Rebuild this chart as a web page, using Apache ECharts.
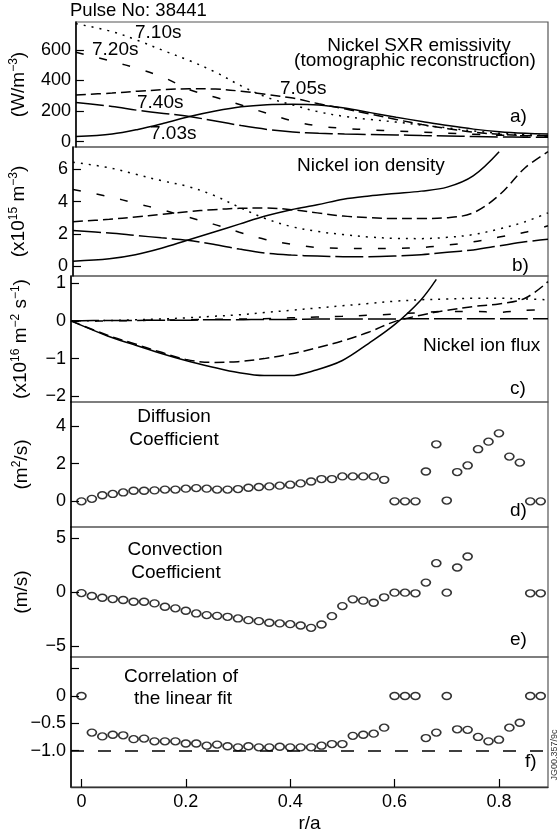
<!DOCTYPE html>
<html>
<head>
<meta charset="utf-8">
<script src="https://cdn.jsdelivr.net/npm/echarts@6/dist/echarts.min.js"></script>
<style>
  html, body { margin: 0; padding: 0; background: #fff; }
  #chart { width: 560px; height: 834px; }
</style>
</head>
<body>
<div id="chart"></div>
<script>
// ---- radial profile data (r/a) ----
const rProfile = [-0.02, 0.05, 0.10, 0.15, 0.20, 0.25, 0.30, 0.35, 0.40, 0.45, 0.50, 0.55, 0.60, 0.65, 0.70, 0.75, 0.80, 0.85, 0.894];

// a) Nickel SXR emissivity (W/m^3)
const emis703 = [33, 50, 80, 120, 164, 200, 228, 242, 245, 240, 220, 190, 160, 132, 105, 82, 65, 55, 50];
const emis705 = [306, 318, 330, 340, 346, 344, 330, 308, 285, 248, 215, 180, 145, 112, 85, 62, 48, 40, 38];
const emis710 = [772, 720, 662, 595, 530, 455, 365, 290, 240, 195, 165, 145, 128, 108, 90, 70, 55, 45, 40];
const emis720 = [585, 525, 478, 420, 340, 290, 240, 185, 135, 102, 87, 77, 69, 62, 55, 48, 42, 38, 35];
const emis740 = [256, 230, 205, 185, 164, 135, 105, 80, 63, 55, 50, 47, 44, 40, 37, 34, 31, 29, 28];

// b) Nickel ion density (x10^15 m^-3)
const rDens703 = [-0.02, 0.05, 0.10, 0.15, 0.20, 0.25, 0.30, 0.35, 0.40, 0.45, 0.50, 0.55, 0.60, 0.65, 0.70, 0.75, 0.80];
const dens703 = [0.3, 0.45, 0.7, 1.1, 1.6, 2.1, 2.6, 3.1, 3.5, 3.8, 4.15, 4.35, 4.5, 4.65, 4.9, 5.6, 7.1];
const dens705 = [2.75, 2.9, 3.05, 3.2, 3.37, 3.5, 3.58, 3.6, 3.5, 3.3, 3.1, 3.0, 2.95, 2.95, 3.0, 3.3, 4.4, 6.1, 7.1];
const dens710 = [6.45, 6.1, 5.7, 5.3, 4.95, 4.4, 3.65, 2.95, 2.45, 2.15, 1.95, 1.8, 1.72, 1.7, 1.78, 1.95, 2.3, 2.75, 3.3];
const dens720 = [4.75, 4.3, 3.9, 3.5, 3.05, 2.6, 2.1, 1.65, 1.35, 1.15, 1.1, 1.08, 1.1, 1.15, 1.3, 1.5, 1.8, 2.1, 2.5];
const dens740 = [2.2, 2.05, 1.9, 1.75, 1.6, 1.35, 1.05, 0.8, 0.68, 0.62, 0.58, 0.58, 0.62, 0.7, 0.85, 1.0, 1.25, 1.5, 1.66];

// c) Nickel ion flux (x10^16 m^-2 s^-1)
const rFlux703 = [-0.02, 0.05, 0.10, 0.15, 0.20, 0.25, 0.30, 0.35, 0.40, 0.45, 0.50, 0.55, 0.60, 0.65, 0.68];
const flux703 = [0, -0.4, -0.63, -0.85, -1.05, -1.22, -1.37, -1.45, -1.45, -1.3, -1.05, -0.6, -0.1, 0.55, 1.1];
const flux705 = [0, -0.38, -0.6, -0.82, -1.02, -1.1, -1.08, -1.0, -0.88, -0.72, -0.53, -0.3, -0.02, 0.15, 0.28, 0.38, 0.45, 0.6, 1.04];
const flux710 = [0, 0.01, 0.03, 0.05, 0.08, 0.12, 0.16, 0.22, 0.28, 0.34, 0.4, 0.46, 0.52, 0.56, 0.58, 0.6, 0.6, 0.58, 0.56];
const flux720 = [0, 0, 0.01, 0.02, 0.03, 0.04, 0.05, 0.06, 0.08, 0.1, 0.12, 0.15, 0.18, 0.22, 0.25, 0.25, 0.23, 0.28, 0.3];
const flux740 = [0, 0.01, 0.01, 0.02, 0.02, 0.03, 0.03, 0.04, 0.04, 0.05, 0.05, 0.05, 0.05, 0.06, 0.06, 0.06, 0.06, 0.06, 0.06];

// d-f) transport fit results on the r/a grid
const rFit = [0.00, 0.02, 0.04, 0.06, 0.08, 0.10, 0.12, 0.14, 0.16, 0.18,
              0.20, 0.22, 0.24, 0.26, 0.28, 0.30, 0.32, 0.34, 0.36, 0.38,
              0.40, 0.42, 0.44, 0.46, 0.48, 0.50, 0.52, 0.54, 0.56, 0.58,
              0.60, 0.62, 0.64, 0.66, 0.68, 0.70, 0.72, 0.74, 0.76, 0.78,
              0.80, 0.82, 0.84, 0.86, 0.88];
const diffusion = [0.0, 0.13, 0.32, 0.39, 0.47, 0.56, 0.56, 0.58, 0.62, 0.62,
                   0.67, 0.70, 0.67, 0.62, 0.62, 0.65, 0.72, 0.76, 0.79, 0.83,
                   0.88, 0.95, 1.05, 1.18, 1.18, 1.32, 1.32, 1.32, 1.32, 1.14,
                   0, 0, 0, 1.58, 3.02, 0.04, 1.55, 1.9, 2.76, 3.16,
                   3.6, 2.37, 2.05, 0, 0];
const convection = [-0.1, -0.37, -0.53, -0.65, -0.74, -0.9, -0.9, -1.05, -1.36, -1.51,
                    -1.73, -1.98, -2.13, -2.2, -2.29, -2.44, -2.6, -2.69, -2.84, -2.9,
                    -2.97, -3.09, -3.31, -3.0, -2.23, -1.3, -0.68, -0.8, -0.99, -0.49,
                    -0.06, -0.06, -0.12, 0.87, 2.66, -0.06, 2.26, 3.28, null, null,
                    null, null, null, -0.12, -0.12];
const correlation = [0, -0.67, -0.74, -0.71, -0.72, -0.79, -0.78, -0.83, -0.83, -0.83,
                     -0.87, -0.87, -0.91, -0.89, -0.92, -0.94, -0.92, -0.94, -0.94, -0.93,
                     -0.94, -0.94, -0.94, -0.91, -0.88, -0.88, -0.73, -0.71, -0.69, -0.58,
                     0, 0, 0, -0.77, -0.67, 0, -0.61, -0.62, -0.75, -0.83,
                     -0.80, -0.58, -0.49, 0, 0];
const perfectFit = -1.0;

// ---- axis ticks ----
const xTicks = [0, 0.2, 0.4, 0.6, 0.8];
const yTicksA = [0, 200, 400, 600];
const yTicksB = [0, 2, 4, 6];
const yTicksC = [-2, -1, 0, 1];
const yTicksD = [0, 2, 4];
const yTicksE = [-5, 0, 5];
const yTicksF = [-1, -0.5, 0, 0.5];
const yLabelsF = { '-1': '−1.0', '-0.5': '−0.5', '0': '0', '0.5': '' };

const FONT = '"Liberation Sans", Arial, sans-serif';
const INK = '#000';

const panels = [
  { top: 22,  height: 125, min: -35,   max: 783,  ticks: yTicksA, name: '(W/m{sup|−3})', gap: 43 },
  { top: 147, height: 129, min: -0.62, max: 7.39, ticks: yTicksB, name: '(x10{sup|15} m{sup|−3})', gap: 43 },
  { top: 276, height: 126, min: -2.15, max: 1.19, ticks: yTicksC, name: '(x10{sup|16} m{sup|−2} s{sup|−1})', gap: 39 },
  { top: 402, height: 125, min: -1.36, max: 5.26, ticks: yTicksD, name: '(m{sup|2}/s)', gap: 38 },
  { top: 527, height: 130, min: -6,    max: 6,    ticks: yTicksE, name: '(m/s)', gap: 38 },
  { top: 657, height: 131, min: -1.667, max: 0.715, ticks: yTicksF, name: '', gap: 38 }
];

const grids = panels.map(p => ({
  left: 71, right: 12, top: p.top, height: p.height,
  show: true, borderColor: '#555', borderWidth: 1.2, backgroundColor: 'transparent'
}));

const xAxes = panels.map((p, i) => {
  const last = i === panels.length - 1;
  return {
    gridIndex: i, type: 'value', min: -0.02, max: 0.894,
    axisLine: { show: last, onZero: false, lineStyle: { color: '#333', width: 1.3 } },
    axisTick: { show: last, inside: true, length: 8, customValues: xTicks, lineStyle: { color: INK, width: 1.2 } },
    axisLabel: { show: last, customValues: xTicks, margin: 6, color: INK, fontFamily: FONT, fontSize: 18,
                 formatter: v => String(v) },
    splitLine: { show: false },
    name: last ? 'r/a' : '', nameLocation: 'middle', nameGap: 27,
    nameTextStyle: { color: INK, fontFamily: FONT, fontSize: 19 }
  };
});

const yAxes = panels.map((p, i) => ({
  gridIndex: i, type: 'value', min: p.min, max: p.max,
  axisLine: { show: true, onZero: false, lineStyle: { color: INK, width: 1.5 } },
  axisTick: { show: true, inside: true, length: 8, customValues: p.ticks, lineStyle: { color: INK, width: 1.2 } },
  axisLabel: {
    customValues: p.ticks, margin: 5, color: INK, fontFamily: FONT, fontSize: 18,
    formatter: v => (i === 5 ? yLabelsF[String(v)] : String(v).replace('-', '−'))
  },
  splitLine: { show: false },
  name: p.name, nameLocation: 'middle', nameRotate: 90, nameGap: p.gap,
  nameTextStyle: {
    color: INK, fontFamily: FONT, fontSize: 19, lineHeight: 22,
    rich: { sup: { fontFamily: FONT, fontSize: 12, lineHeight: 12, verticalAlign: 'top', color: INK } }
  }
}));

const STYLE = {
  t703: 'solid',
  t705: [10, 5],
  t710: [2, 6],
  t720: [8, 16],
  t740: [28, 5]
};

function profile(grid, r, vals, dash) {
  return {
    type: 'line', xAxisIndex: grid, yAxisIndex: grid,
    data: r.map((x, k) => [x, vals[k]]),
    smooth: 0.35, showSymbol: false, silent: true, clip: true,
    lineStyle: { color: INK, width: 1.5, type: dash }
  };
}

function points(grid, vals) {
  return {
    type: 'scatter', xAxisIndex: grid, yAxisIndex: grid,
    data: rFit.map((x, k) => [x, vals[k]]).filter(d => d[1] !== null),
    symbol: 'circle', symbolSize: [9, 7], silent: true,
    itemStyle: { color: 'rgba(0,0,0,0)', borderColor: INK, borderWidth: 1.5 }
  };
}

const series = [
  profile(0, rProfile, emis703, STYLE.t703),
  profile(0, rProfile, emis705, STYLE.t705),
  profile(0, rProfile, emis710, STYLE.t710),
  profile(0, rProfile, emis720, STYLE.t720),
  profile(0, rProfile, emis740, STYLE.t740),
  profile(1, rDens703, dens703, STYLE.t703),
  profile(1, rProfile, dens705, STYLE.t705),
  profile(1, rProfile, dens710, STYLE.t710),
  profile(1, rProfile, dens720, STYLE.t720),
  profile(1, rProfile, dens740, STYLE.t740),
  profile(2, rFlux703, flux703, STYLE.t703),
  profile(2, rProfile, flux705, STYLE.t705),
  profile(2, rProfile, flux710, STYLE.t710),
  profile(2, rProfile, flux720, STYLE.t720),
  profile(2, rProfile, flux740, STYLE.t740),
  points(3, diffusion),
  points(4, convection),
  Object.assign(points(5, correlation), {
    markLine: {
      silent: true, symbol: 'none', label: { show: false },
      lineStyle: { color: INK, width: 1.5, type: [13, 14] },
      data: [{ yAxis: perfectFit }]
    }
  })
];

function txt(x, y, text, opts) {
  return {
    type: 'text', x: x, y: y, silent: true,
    style: Object.assign({ text: text, fill: INK, fontFamily: FONT, fontSize: 19,
                           align: 'left', verticalAlign: 'middle' }, opts || {})
  };
}

const graphics = [
  txt(135, 33, '7.10s'),
  txt(92, 50, '7.20s'),
  txt(280, 89, '7.05s'),
  txt(137, 103, '7.40s'),
  txt(150, 134, '7.03s'),
  txt(419, 46, 'Nickel SXR emissivity', { align: 'center' }),
  txt(415, 61, '(tomographic reconstruction)', { align: 'center' }),
  txt(510, 117, 'a)'),
  txt(297, 166, 'Nickel ion density'),
  txt(512, 266, 'b)'),
  txt(423, 346, 'Nickel ion flux'),
  txt(510, 389, 'c)'),
  txt(174, 417, 'Diffusion', { align: 'center' }),
  txt(174, 440, 'Coefficient', { align: 'center' }),
  txt(510, 511, 'd)'),
  txt(175, 550, 'Convection', { align: 'center' }),
  txt(176, 573, 'Coefficient', { align: 'center' }),
  txt(510, 640, 'e)'),
  txt(181, 677, 'Correlation of', { align: 'center' }),
  txt(183, 699, 'the linear fit', { align: 'center' }),
  txt(525, 762, 'f)'),
  {
    type: 'text', x: 555, y: 755, rotation: Math.PI / 2, silent: true,
    style: { text: 'JG00.357/9c', fill: '#333', fontFamily: FONT, fontSize: 9,
             align: 'center', verticalAlign: 'middle' }
  }
];

const chart = echarts.init(document.getElementById('chart'), null, { renderer: 'canvas' });
chart.setOption({
  animation: false,
  backgroundColor: '#fff',
  title: {
    text: 'Pulse No: 38441', left: 70, top: 2, padding: 0,
    textStyle: { color: INK, fontFamily: FONT, fontSize: 18.5, fontWeight: 'normal', lineHeight: 18 }
  },
  grid: grids,
  xAxis: xAxes,
  yAxis: yAxes,
  series: series,
  graphic: graphics
});
</script>
</body>
</html>
